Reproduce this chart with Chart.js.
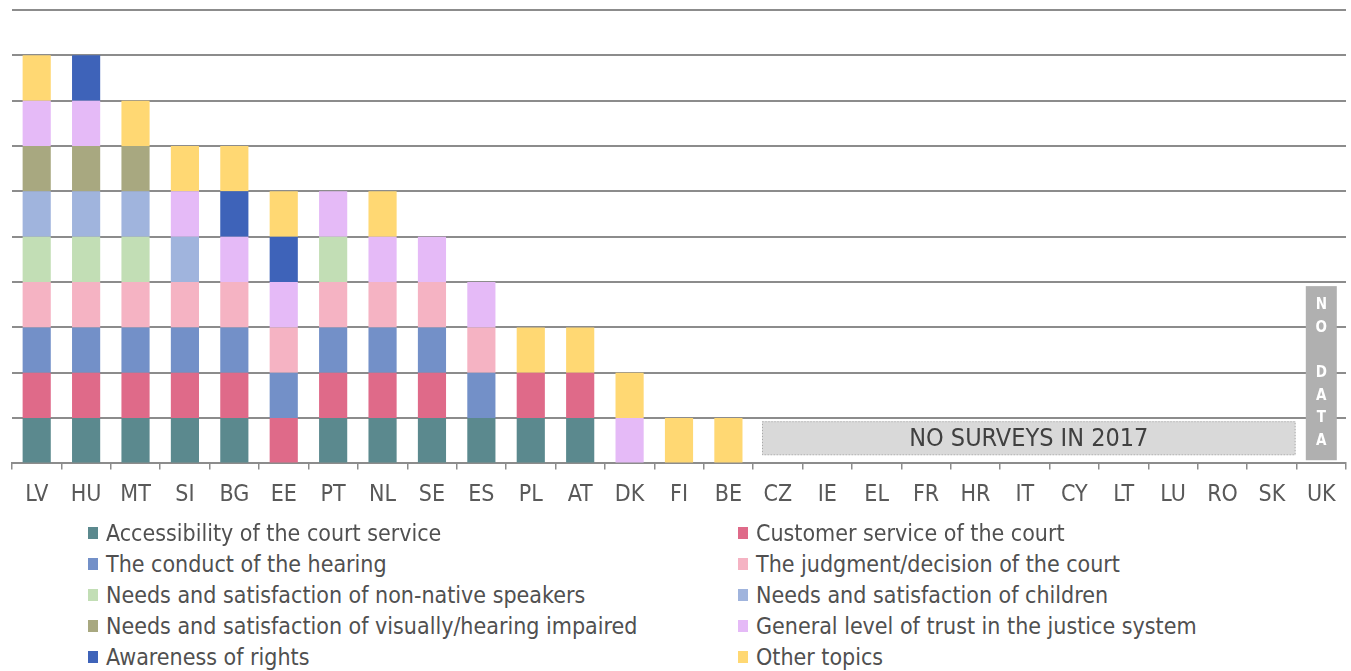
<!DOCTYPE html>
<html>
<head>
<meta charset="utf-8">
<script src="https://cdn.jsdelivr.net/npm/chart.js@4.4.0/dist/chart.umd.min.js"></script>
<style>
  body { margin: 0; background: #fff; font-family: "DejaVu Sans Condensed", "Roboto", sans-serif; }
  .wrap { position: relative; width: 1351px; height: 671px; overflow: hidden; }
  .chart-box { position: absolute; left: 0; top: 0; width: 1351px; height: 530px; }
  #legend { position: absolute; left: 0; top: 517px; width: 1351px; }
  .leg-item { position: absolute; display: flex; align-items: center; height: 31px;
    font-size: 23px; color: #505050; white-space: nowrap; }
  .leg-item span.sw { display: inline-block; width: 10px; height: 12px; margin-right: 8px; }
</style>
</head>
<body>
<div class="wrap">
  <div class="chart-box"><canvas id="surveyChart"></canvas></div>
  <div id="legend"></div>
</div>
<script>
// Member states, ordered by number of survey topics
const countries = ["LV", "HU", "MT", "SI", "BG", "EE", "PT", "NL", "SE", "ES", "PL", "AT", "DK",
  "FI", "BE", "CZ", "IE", "EL", "FR", "HR", "IT", "CY", "LT", "LU", "RO", "SK", "UK"];

const topics = [
  "Accessibility of the court service",
  "Customer service of the court",
  "The conduct of the hearing",
  "The judgment/decision of the court",
  "Needs and satisfaction of non-native speakers",
  "Needs and satisfaction of children",
  "Needs and satisfaction of visually/hearing impaired",
  "General level of trust in the justice system",
  "Awareness of rights",
  "Other topics"
];

const topicColors = ["#5b898e", "#df6a89", "#7390c8", "#f5b3c3", "#c2deb5",
  "#a0b4dd", "#a8a880", "#e5baf7", "#3e63b9", "#ffd873"];

// 1 = topic covered by the 2017 surveys, per country (same order as countries)
const accessibility = [1, 1, 1, 1, 1, 0, 1, 1, 1, 1, 1, 1, 0, 0, 0, 0, 0, 0, 0, 0, 0, 0, 0, 0, 0, 0, 0];
const customerService = [1, 1, 1, 1, 1, 1, 1, 1, 1, 0, 1, 1, 0, 0, 0, 0, 0, 0, 0, 0, 0, 0, 0, 0, 0, 0, 0];
const conductHearing = [1, 1, 1, 1, 1, 1, 1, 1, 1, 1, 0, 0, 0, 0, 0, 0, 0, 0, 0, 0, 0, 0, 0, 0, 0, 0, 0];
const judgment = [1, 1, 1, 1, 1, 1, 1, 1, 1, 1, 0, 0, 0, 0, 0, 0, 0, 0, 0, 0, 0, 0, 0, 0, 0, 0, 0];
const nonNative = [1, 1, 1, 0, 0, 0, 1, 0, 0, 0, 0, 0, 0, 0, 0, 0, 0, 0, 0, 0, 0, 0, 0, 0, 0, 0, 0];
const children = [1, 1, 1, 1, 0, 0, 0, 0, 0, 0, 0, 0, 0, 0, 0, 0, 0, 0, 0, 0, 0, 0, 0, 0, 0, 0, 0];
const impaired = [1, 1, 1, 0, 0, 0, 0, 0, 0, 0, 0, 0, 0, 0, 0, 0, 0, 0, 0, 0, 0, 0, 0, 0, 0, 0, 0];
const trust = [1, 1, 0, 1, 1, 1, 1, 1, 1, 1, 0, 0, 1, 0, 0, 0, 0, 0, 0, 0, 0, 0, 0, 0, 0, 0, 0];
const awareness = [0, 1, 0, 0, 1, 1, 0, 0, 0, 0, 0, 0, 0, 0, 0, 0, 0, 0, 0, 0, 0, 0, 0, 0, 0, 0, 0];
const otherTopics = [1, 0, 1, 1, 1, 1, 0, 1, 0, 0, 1, 1, 1, 1, 1, 0, 0, 0, 0, 0, 0, 0, 0, 0, 0, 0, 0];

const seriesValues = [accessibility, customerService, conductHearing, judgment, nonNative,
  children, impaired, trust, awareness, otherTopics];

const noSurveyText = "NO SURVEYS IN 2017";
const noDataLetters = ["N", "O", "", "D", "A", "T", "A"];

const FONT = '"DejaVu Sans Condensed", "Roboto", sans-serif';

// boxes for countries without surveys / without data
const noSurveyPlugin = {
  id: "noSurvey",
  afterDatasetsDraw(chart) {
    const { ctx, scales } = chart;
    const x = scales.x, y = scales.y;
    const step = x.getPixelForValue(1) - x.getPixelForValue(0);

    // NO SURVEYS IN 2017 box (CZ ... SK)
    const left = x.getPixelForValue(countries.indexOf("CZ")) - step * 0.32;
    const right = x.getPixelForValue(countries.indexOf("SK")) + step * 0.48;
    const top = y.getPixelForValue(0.93);
    const bottom = y.getPixelForValue(0.18);
    ctx.save();
    ctx.fillStyle = "#d9d9d9";
    ctx.fillRect(left, top, right - left, bottom - top);
    ctx.setLineDash([1, 2]);
    ctx.strokeStyle = "#a6a6a6";
    ctx.lineWidth = 1;
    ctx.strokeRect(left + 0.5, top + 0.5, right - left - 1, bottom - top - 1);
    ctx.setLineDash([]);
    ctx.fillStyle = "#404040";
    ctx.font = "25px " + FONT;
    ctx.textAlign = "center";
    ctx.textBaseline = "middle";
    ctx.fillText(noSurveyText, (left + right) / 2, (top + bottom) / 2 + 1);

    // NO DATA column (UK)
    const cx = x.getPixelForValue(countries.indexOf("UK"));
    const t2 = y.getPixelForValue(3.91);
    const b2 = y.getPixelForValue(0.07);
    ctx.fillStyle = "#b0b0b0";
    ctx.fillRect(cx - 15.5, t2, 31, b2 - t2);
    ctx.fillStyle = "#ffffff";
    ctx.font = "bold 15px " + FONT;
    noDataLetters.forEach((ch, i) => {
      ctx.fillText(ch, cx, y.getPixelForValue(3.49 - i * 0.5));
    });
    ctx.restore();
  }
};

const chart = new Chart(document.getElementById("surveyChart"), {
  type: "bar",
  data: {
    labels: countries,
    datasets: topics.map((t, i) => ({
      label: t,
      data: seriesValues[i],
      backgroundColor: topicColors[i],
      borderWidth: 0,
      barPercentage: 0.57,
      categoryPercentage: 1
    }))
  },
  options: {
    responsive: true,
    maintainAspectRatio: false,
    animation: false,
    layout: { padding: { left: 12, right: 5, top: 10, bottom: 9 } },
    plugins: {
      legend: { display: false },
      tooltip: { enabled: false }
    },
    scales: {
      x: {
        stacked: true,
        grid: { drawOnChartArea: false, color: "#8c8c8c", lineWidth: 1.5, tickLength: 6, offset: true },
        border: { display: true, color: "#8c8c8c", width: 2 },
        ticks: { color: "#595959", padding: 12, font: { family: FONT, size: 23 }, maxRotation: 0, autoSkip: false }
      },
      y: {
        stacked: true,
        min: 0,
        max: 10,
        ticks: { display: false, stepSize: 1 },
        grid: { color: "#8c8c8c", lineWidth: 2, drawTicks: false },
        border: { display: false }
      }
    }
  },
  plugins: [noSurveyPlugin]
});

// legend in two columns, built from the chart's own dataset labels
const legendEl = document.getElementById("legend");
chart.options.plugins.legend.labels.generateLabels(chart).forEach((item, i) => {
  const div = document.createElement("div");
  div.className = "leg-item";
  div.style.left = (i % 2 === 0 ? 88 : 738) + "px";
  div.style.top = Math.floor(i / 2) * 31.2 + "px";
  div.innerHTML = '<span class="sw" style="background:' + item.fillStyle + '"></span>' + item.text;
  legendEl.appendChild(div);
});
</script>
</body>
</html>
